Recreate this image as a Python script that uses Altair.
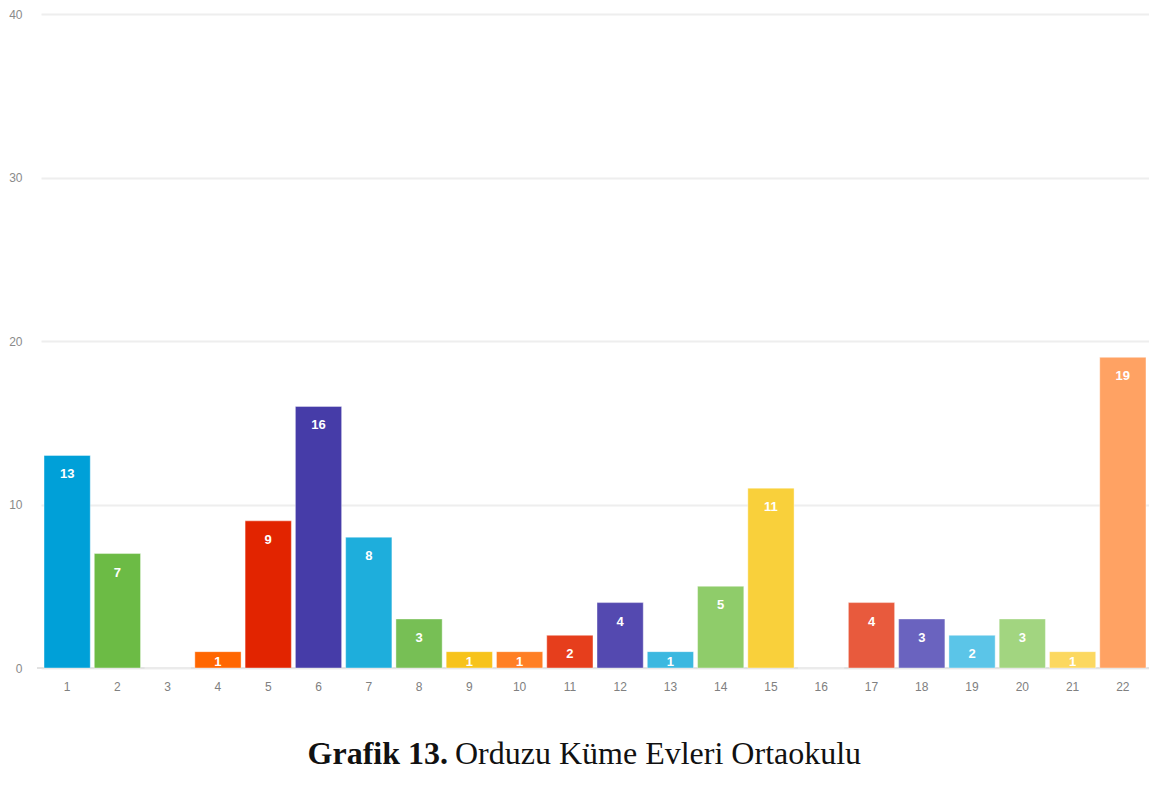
import altair as alt
import pandas as pd

categories = [str(i) for i in range(1, 23)]
values = [13, 7, 0, 1, 9, 16, 8, 3, 1, 1, 2, 4, 1, 5, 11, 0, 4, 3, 2, 3, 1, 19]
colors = ["#00a0d8", "#6cbb45", "#f7c31b", "#ff6600", "#e22400", "#463ca8",
          "#1eaedc", "#77bf55", "#f7c31b", "#ff7f24", "#e63e1c", "#5449b0",
          "#3bb8e0", "#8fcc6a", "#f9d03b", "#ff9a55", "#e85a3d", "#6a63bf",
          "#5bc5e8", "#a2d580", "#fcd860", "#ffa263"]
title_bold = "Grafik 13."
title_rest = "Orduzu Küme Evleri Ortaokulu"

df = pd.DataFrame({"cat": categories, "val": values, "color": colors})
df["label"] = [str(v) if v > 0 else "" for v in values]

W, H = 1108, 654

x = alt.X("cat:N", sort=categories, title=None,
          scale=alt.Scale(paddingInner=0.08, paddingOuter=0.06),
          axis=alt.Axis(labelAngle=0, ticks=False, domain=False, grid=False,
                        labelColor="#808080", labelFont="Liberation Sans",
                        labelFontSize=12, labelPadding=13))
y = alt.Y("val:Q", title=None,
          scale=alt.Scale(domain=[0, 40], nice=False),
          axis=alt.Axis(values=[0, 10, 20, 30, 40], ticks=False, domain=False,
                        grid=True, gridColor="#eeeeee", gridWidth=2,
                        labelColor="#8a8a8a", labelFont="Liberation Sans",
                        labelFontSize=12, labelPadding=19))

base = alt.Chart(df)

bars = base.mark_bar(stroke="white", strokeOpacity=0.4, strokeWidth=1).encode(
    x=x, y=y, color=alt.Color("color:N", scale=None)
)

zero = alt.Chart(pd.DataFrame({"z": [0]})).mark_rule(color="#e2e2e2", strokeWidth=2).encode(
    y="z:Q", x=alt.value(-4), x2=alt.value(W)
)

labels = base.transform_calculate(
    ly="max(datum.val, 1.5)"
).mark_text(color="white", font="Liberation Sans", fontWeight="bold",
            fontSize=13, baseline="middle", dy=19, clip=True).encode(
    x=alt.X("cat:N", sort=categories), y="ly:Q", text="label:N"
)

t1 = alt.Chart(pd.DataFrame({"t": [title_bold]})).mark_text(
    font="Liberation Serif", fontWeight="bold", fontSize=32, align="right",
    baseline="alphabetic", color="#111").encode(
    text="t:N", x=alt.value(407), y=alt.value(750))
t2 = alt.Chart(pd.DataFrame({"t": [title_rest]})).mark_text(
    font="Liberation Serif", fontSize=32, align="left",
    baseline="alphabetic", color="#111").encode(
    text="t:N", x=alt.value(414), y=alt.value(750))

chart = alt.layer(zero, bars, labels, t1, t2).properties(
    width=W, height=H,
    background="white",
    autosize=alt.AutoSizeParams(type="none"),
    padding={"left": 33, "top": 6, "right": 0, "bottom": 122},
).configure_view(strokeWidth=0, stroke=None)

chart.save("out.html", embed_options={"renderer": "svg", "actions": False})
